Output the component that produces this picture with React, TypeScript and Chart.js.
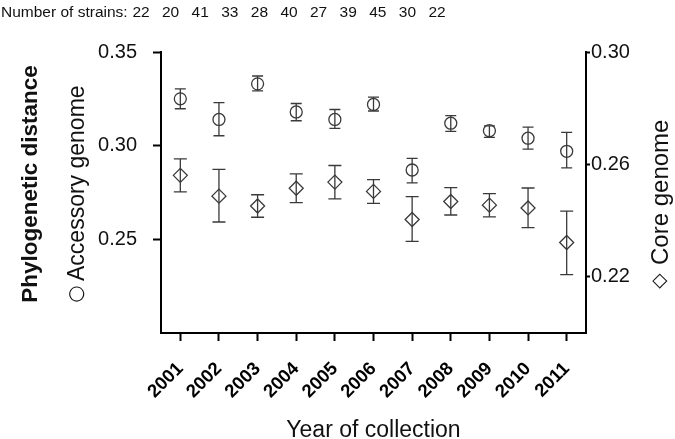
import React, { useEffect, useRef } from "react";
import { Chart, registerables } from "chart.js";

Chart.register(...registerables);

const years = ["2001", "2002", "2003", "2004", "2005", "2006", "2007", "2008", "2009", "2010", "2011"];
const strainCounts = [22, 20, 41, 33, 28, 40, 27, 39, 45, 30, 22];

const accessoryMean = [0.325, 0.314, 0.333, 0.318, 0.314, 0.322, 0.287, 0.312, 0.308, 0.304, 0.297];
const accessoryLow = [0.3197, 0.3053, 0.3293, 0.3133, 0.3092, 0.3185, 0.2801, 0.3076, 0.3044, 0.2982, 0.2881];
const accessoryHigh = [0.3303, 0.323, 0.3372, 0.3225, 0.3193, 0.3259, 0.2932, 0.316, 0.3106, 0.3099, 0.3071];

const coreMean = [0.2561, 0.2487, 0.2452, 0.2515, 0.2537, 0.2504, 0.2404, 0.2468, 0.2455, 0.2445, 0.2322];
const coreLow = [0.2502, 0.2395, 0.2412, 0.2464, 0.2477, 0.2461, 0.2326, 0.242, 0.2413, 0.2375, 0.2208];
const coreHigh = [0.262, 0.2582, 0.2492, 0.2566, 0.2596, 0.2546, 0.2485, 0.2517, 0.2496, 0.2516, 0.2434];

const leftTicks = [0.25, 0.3, 0.35];
const rightTicks = [0.22, 0.26, 0.3];

const FONT = "'Liberation Sans', Arial, Helvetica, sans-serif";
const SYMFONT = "'DejaVu Sans', sans-serif";
const INK = "#3a3a3a";

const errorBarPlugin = {
  id: "errorBars",
  afterDatasetsDraw(chart: any) {
    const ctx = chart.ctx;
    const xs = chart.scales.x;
    const specs = [
      { scale: chart.scales.y, low: accessoryLow, high: accessoryHigh, cap: 5.5 },
      { scale: chart.scales.y1, low: coreLow, high: coreHigh, cap: 6.5 },
    ];
    ctx.save();
    ctx.strokeStyle = INK;
    ctx.lineWidth = 1.3;
    specs.forEach((s) => {
      years.forEach((_, i) => {
        const px = xs.getPixelForValue(i);
        const yl = s.scale.getPixelForValue(s.low[i]);
        const yh = s.scale.getPixelForValue(s.high[i]);
        ctx.beginPath();
        ctx.moveTo(px, yl);
        ctx.lineTo(px, yh);
        ctx.moveTo(px - s.cap, yl);
        ctx.lineTo(px + s.cap, yl);
        ctx.moveTo(px - s.cap, yh);
        ctx.lineTo(px + s.cap, yh);
        ctx.stroke();
      });
    });
    ctx.restore();
  },
};

const textPlugin = {
  id: "extraText",
  afterDraw(chart: any) {
    const ctx = chart.ctx;
    ctx.save();
    ctx.fillStyle = "#111";
    ctx.textBaseline = "alphabetic";
    // top line
    ctx.font = `15.5px ${FONT}`;
    ctx.textAlign = "left";
    ctx.fillText("Number of strains:", 1, 17);
    ctx.textAlign = "center";
    strainCounts.forEach((n, i) => {
      ctx.fillText(String(n), 141 + i * 29.6, 17);
    });
    // x title
    ctx.font = `23px ${FONT}`;
    const xs = chart.scales.x;
    ctx.fillText("Year of collection", (xs.left + xs.right) / 2, 437);
    // vertical titles
    const vt = (text: string, x: number, y: number, font: string, align: string, baseline = "alphabetic") => {
      ctx.save();
      ctx.translate(x, y);
      ctx.rotate(-Math.PI / 2);
      ctx.font = font;
      ctx.textAlign = align;
      ctx.textBaseline = baseline;
      ctx.fillText(text, 0, 0);
      ctx.restore();
    };
    vt("Phylogenetic distance", 37, 184, `bold 22.5px ${FONT}`, "center");
    vt("Accessory genome", 84, 281, `23px ${FONT}`, "left");
    vt("\u25CB", 77, 294, `20px ${SYMFONT}`, "center", "middle");
    vt("Core genome", 668, 265, `24px ${FONT}`, "left");
    vt("\u25C7", 660, 281, `20px ${SYMFONT}`, "center", "middle");
    ctx.restore();
  },
};

export default function App() {
  const ref = useRef<HTMLCanvasElement | null>(null);
  useEffect(() => {
    document.body.style.margin = "0";
    const canvas = ref.current;
    if (!canvas) return;
    const chart = new Chart(canvas, {
      type: "line",
      data: {
        labels: years,
        datasets: [
          {
            label: "Accessory genome",
            data: accessoryMean,
            yAxisID: "y",
            showLine: false,
            pointStyle: "circle",
            pointRadius: 6,
            pointBorderWidth: 1.3,
            pointBorderColor: INK,
            pointBackgroundColor: "rgba(0,0,0,0)",
            borderColor: INK,
          },
          {
            label: "Core genome",
            data: coreMean,
            yAxisID: "y1",
            showLine: false,
            pointStyle: "rectRot",
            pointRadius: 7,
            pointBorderWidth: 1.3,
            pointBorderColor: INK,
            pointBackgroundColor: "rgba(0,0,0,0)",
            borderColor: INK,
          },
        ],
      },
      options: {
        responsive: false,
        animation: false,
        devicePixelRatio: 1,
        layout: { padding: { top: 52, left: 0, right: 0, bottom: 0 } },
        plugins: {
          legend: { display: false },
          tooltip: { enabled: false },
          title: { display: false },
        },
        scales: {
          x: {
            type: "category",
            offset: true,
            border: { display: true, color: "#000", width: 2 },
            grid: {
              display: true,
              drawOnChartArea: false,
              drawTicks: true,
              tickLength: 8,
              tickWidth: 2,
              tickColor: "#000",
              offset: false,
            },
            ticks: {
              color: "#000",
              font: { family: FONT, size: 18.5, weight: "bold" },
              minRotation: 45,
              maxRotation: 45,
              padding: 17,
              autoSkip: false,
            },
            afterFit: (s: any) => {
              s.height = 106;
            },
          },
          y: {
            position: "left",
            min: 0.2,
            max: 0.35,
            border: { display: true, color: "#000", width: 2 },
            grid: {
              display: true,
              drawOnChartArea: false,
              drawTicks: true,
              tickLength: 8,
              tickWidth: 2,
              tickColor: "#000",
            },
            ticks: {
              color: "#111",
              font: { family: FONT, size: 20 },
              padding: 16,
              callback: (v: any) => Number(v).toFixed(2),
            },
            afterBuildTicks: (s: any) => {
              s.ticks = leftTicks.map((v) => ({ value: v }));
            },
            afterFit: (s: any) => {
              s.width = 161;
            },
          },
          y1: {
            position: "right",
            min: 0.2,
            max: 0.3,
            border: { display: true, color: "#000", width: 2 },
            grid: {
              display: true,
              drawOnChartArea: false,
              drawTicks: true,
              tickLength: 4,
              tickWidth: 2,
              tickColor: "#000",
            },
            ticks: {
              color: "#111",
              font: { family: FONT, size: 20 },
              padding: 1,
              callback: (v: any) => Number(v).toFixed(2),
            },
            afterBuildTicks: (s: any) => {
              s.ticks = rightTicks.map((v) => ({ value: v }));
            },
            afterFit: (s: any) => {
              s.width = 89;
            },
          },
        },
      },
      plugins: [errorBarPlugin, textPlugin],
    } as any);
    return () => chart.destroy();
  }, []);
  return (
    <div style={{ position: "absolute", left: 0, top: 0, width: 675, height: 439 }}>
      <canvas ref={ref} width={675} height={439} />
    </div>
  );
}
